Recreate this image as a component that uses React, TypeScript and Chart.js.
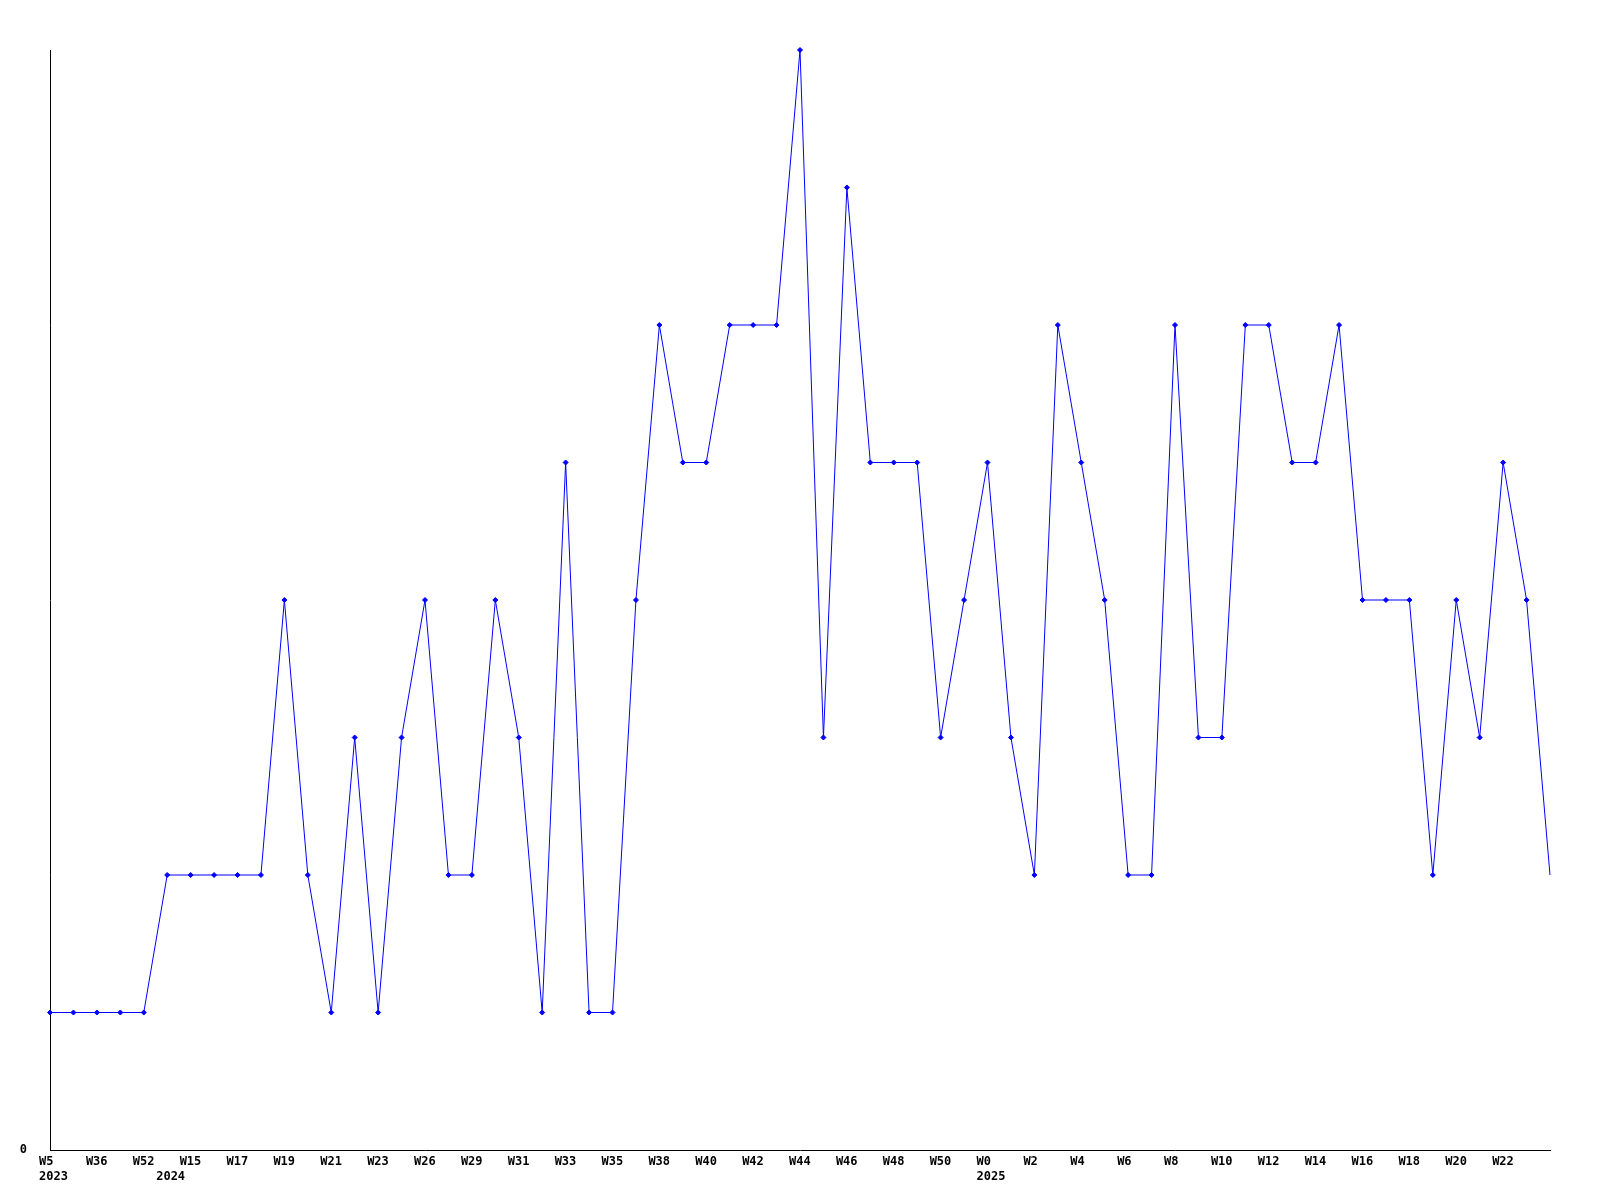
import React, { useEffect, useRef } from "react";
import { Chart, registerables } from "chart.js";

Chart.register(...registerables);

const weeks: string[] = [
  "W5", "W20", "W36", "W45", "W52",
  "W14", "W15", "W16", "W17", "W18", "W19", "W20", "W21", "W22", "W23", "W25", "W26", "W28", "W29", "W30",
  "W31", "W32", "W33", "W34", "W35", "W37", "W38", "W39", "W40", "W41", "W42", "W43", "W44", "W45", "W46",
  "W47", "W48", "W49", "W50", "W51",
  "W0", "W1", "W2", "W3", "W4", "W5", "W6", "W7", "W8", "W9", "W10", "W11", "W12", "W13", "W14", "W15",
  "W16", "W17", "W18", "W19", "W20", "W21", "W22", "W23", "W24",
];

const years: number[] = [
  2023, 2023, 2023, 2023, 2023,
  2024, 2024, 2024, 2024, 2024, 2024, 2024, 2024, 2024, 2024, 2024, 2024, 2024, 2024, 2024,
  2024, 2024, 2024, 2024, 2024, 2024, 2024, 2024, 2024, 2024, 2024, 2024, 2024, 2024, 2024,
  2024, 2024, 2024, 2024, 2024,
  2025, 2025, 2025, 2025, 2025, 2025, 2025, 2025, 2025, 2025, 2025, 2025, 2025, 2025, 2025, 2025,
  2025, 2025, 2025, 2025, 2025, 2025, 2025, 2025, 2025,
];

const values: number[] = [
  1, 1, 1, 1, 1,
  2, 2, 2, 2, 2, 4, 2, 1, 3, 1, 3, 4, 2, 2, 4,
  3, 1, 5, 1, 1, 4, 6, 5, 5, 6, 6, 6, 8, 3, 7,
  5, 5, 5, 3, 4,
  5, 3, 2, 6, 5, 4, 2, 2, 6, 3, 3, 6, 6, 5, 5, 6,
  4, 4, 4, 2, 4, 3, 5, 4, 2,
];

const Y_MIN = 0;
const Y_MAX = 8;

const FONT = { family: "'DejaVu Sans Mono', monospace", size: 12, weight: "bold" as const, lineHeight: 1.25 };

export default function App() {
  const ref = useRef<HTMLCanvasElement | null>(null);

  useEffect(() => {
    if (!ref.current) return;
    const last = values.length - 1;
    const chart = new Chart(ref.current, {
      type: "line",
      data: {
        labels: weeks,
        datasets: [
          {
            data: values,
            borderColor: "#0000ff",
            backgroundColor: "#0000ff",
            borderWidth: 1,
            pointStyle: "rectRot",
            pointRadius: values.map((_, i) => (i === last ? 0 : 2.5)),
            pointBorderWidth: 1,
            pointBackgroundColor: "#0000ff",
            pointBorderColor: "#0000ff",
            tension: 0,
            fill: false,
            clip: false,
          },
        ],
      },
      options: {
        animation: false,
        responsive: false,
        maintainAspectRatio: false,
        layout: { padding: { left: 0, top: 50, right: 50, bottom: 0 } },
        plugins: {
          legend: { display: false },
          tooltip: { enabled: false },
          title: { display: false },
        },
        scales: {
          x: {
            type: "category",
            offset: false,
            grid: { display: false, drawTicks: false },
            border: { display: true, color: "#000000", width: 1 },
            afterFit: (scale: any) => {
              scale.height = 50;
            },
            ticks: {
              autoSkip: false,
              maxRotation: 0,
              minRotation: 0,
              align: "start",
              labelOffset: -11,
              padding: 4,
              color: "#000000",
              font: FONT,
              callback: (_v: any, i: number) => {
                const wk = i % 2 === 0 && i < last ? weeks[i] : "";
                const yr = i === 0 || years[i] !== years[i - 1] ? String(years[i]) : "";
                return [wk, yr];
              },
            },
          },
          y: {
            min: Y_MIN,
            max: Y_MAX,
            grid: { display: false, drawTicks: false },
            border: { display: true, color: "#000000", width: 1 },
            afterFit: (scale: any) => {
              scale.width = 50;
            },
            ticks: {
              stepSize: 1,
              padding: 23,
              color: "#000000",
              font: FONT,
              callback: (v: any) => (v === 0 ? "0" : ""),
            },
          },
        },
      },
    });
    return () => chart.destroy();
  }, []);

  return (
    <div style={{ position: "absolute", left: 0, top: 0, width: 1600, height: 1200, background: "#ffffff" }}>
      <canvas ref={ref} width={1600} height={1200} style={{ width: 1600, height: 1200, display: "block" }} />
    </div>
  );
}
